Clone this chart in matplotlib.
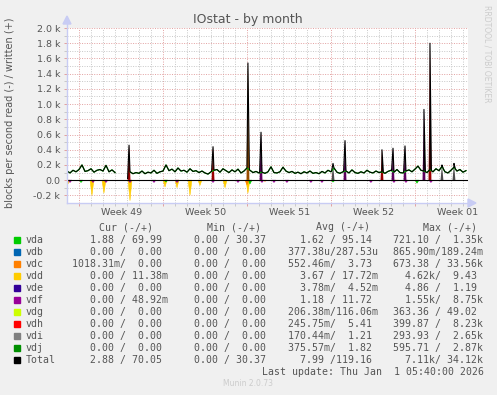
import numpy as np
import matplotlib.pyplot as plt
from matplotlib.patches import Rectangle
from matplotlib.colors import to_rgb

W, H = 497, 395

# devices and munin colours
devices = ["vda", "vdb", "vdc", "vdd", "vde", "vdf", "vdg", "vdh", "vdi", "vdj", "Total"]
colors = ["#00CC00", "#0066B3", "#FF8000", "#FFCC00", "#330099", "#990099",
          "#CCFF00", "#FF0000", "#808080", "#008F00", "#000000"]
dev_color = dict(zip(devices, colors))

# baseline write rate (blocks/s), one value every 6 hours over the month
days = np.arange(134) * 0.25
total_write = [120, 95, 130, 110, 140, 200, 115, 125, 150, 105, 130, 140, 120, 195, 110, 135,
               100, np.nan, np.nan, np.nan, np.nan, 110, 85, 100, 90, 120, 85, 105, 95, 130,
               90, 110, 120, 200, 125, 145, 110, 160, 120, 130, 105, 150, 115, 125, 100, 120,
               95, 80, 110, 130, 140, 105, 150, 125, 100, 135, 110, 145, 95, 120, 160, 130,
               100, 115, 95, 105, 90, 110, 175, 100, 95, 110, 170, 120, 100, 115, 90, 105,
               85, 110, 95, 120, 90, 100, 85, 115, 95, 130, 110, 160, 105, 90, 110, 120,
               95, 135, 100, 90, 110, 95, 130, 105, 95, 120, 100, 110, 90, 115, 130, 105,
               140, 100, 95, 120, 135, 110, 145, 185, 130, 120, 100, 140, 110, 150, 125, 180,
               110, 95, 130, 170, 120, 140, 105, 125]

# write spikes (day, blocks/s, device)
spike_day = [5.17, 12.17, 15.08, 16.17, 22.17, 23.17, 26.25, 27.17, 28.17, 29.75, 30.25, 31.25, 32.25]
spike_val = [460, 440, 1540, 630, 220, 520, 400, 420, 450, 930, 1800, 200, 220]
spike_dev = ["vdh", "vdh", "vdc", "vdf", "vdi", "vdf", "vdh", "vdf", "vdf", "vdf", "vdh", "vdi", "vdi"]

# read spikes, drawn below zero
read_day = [0.08, 2.08, 3.08, 5.25, 8.17, 9.17, 10.25, 11.08, 13.17, 15.08,
            0.25, 2.17, 3.25, 5.25, 7.25, 9.17, 12.17, 14.25, 16.25, 17.25, 18.33, 20.33,
            21.25, 25.33, 27.25, 28.25, 30.33,
            1.17, 8.25, 15.25, 22.17, 29.17,
            15.0, 16.5, 27.5]
read_val = [50, 200, 170, 270, 90, 100, 200, 70, 100, 170,
            30, 30, 30, 30, 30, 30, 30, 30, 30, 30, 30, 30,
            30, 30, 30, 30, 30,
            30, 25, 50, 25, 40,
            60, 15, 10]
read_dev = ["vdd"] * 10 + ["vdf"] * 17 + ["vda"] * 5 + ["vdc"] * 3

week_lines = [1.03, 8.03, 15.03, 22.03, 29.03]
week_labels = ["Week 49", "Week 50", "Week 51", "Week 52", "Week 01"]
ytick_vals = [-200, 0, 200, 400, 600, 800, 1000, 1200, 1400, 1600, 1800, 2000]
ytick_labels = ["-0.2 k", "0.0", "0.2 k", "0.4 k", "0.6 k", "0.8 k", "1.0 k",
                "1.2 k", "1.4 k", "1.6 k", "1.8 k", "2.0 k"]

# legend table values (read / write)
cur = [("1.88", "69.99"), ("0.00", "0.00"), ("1018.31m", "0.00"), ("0.00", "11.38m"),
       ("0.00", "0.00"), ("0.00", "48.92m"), ("0.00", "0.00"), ("0.00", "0.00"),
       ("0.00", "0.00"), ("0.00", "0.00"), ("2.88", "70.05")]
mins = [("0.00", "30.37"), ("0.00", "0.00"), ("0.00", "0.00"), ("0.00", "0.00"),
        ("0.00", "0.00"), ("0.00", "0.00"), ("0.00", "0.00"), ("0.00", "0.00"),
        ("0.00", "0.00"), ("0.00", "0.00"), ("0.00", "30.37")]
avg = [("1.62", "95.14"), ("377.38u", "287.53u"), ("552.46m", "3.73"), ("3.67", "17.72m"),
       ("3.78m", "4.52m"), ("1.18", "11.72"), ("206.38m", "116.06m"), ("245.75m", "5.41"),
       ("170.44m", "1.21"), ("375.57m", "1.82"), ("7.99", "119.16")]
maxs = [("721.10", "1.35k"), ("865.90m", "189.24m"), ("673.38", "33.56k"), ("4.62k", "9.43"),
        ("4.86", "1.19"), ("1.55k", "8.75k"), ("363.36", "49.02"), ("399.87", "8.23k"),
        ("293.93", "2.65k"), ("595.71", "2.87k"), ("7.11k", "34.12k")]


def cell(pair):
    out = ""
    for s, width in zip(pair, (7, 6)):
        if s[-1].isalpha():
            num, unit = s[:-1], s[-1]
        else:
            num, unit = s, " "
        out += num.rjust(width) + unit
        if width == 7:
            out += "/"
    return out


def shade(c, k=0.5):
    r, g, b = to_rgb(c)
    return (r * k, g * k, b * k)


txt = "#555555"
fig = plt.figure(figsize=(W / 100, H / 100), dpi=100, facecolor="#F0F0F0")
ax = fig.add_axes([67 / W, 1 - 203 / H, 401 / W, 175 / H])
ax.set_facecolor("white")
ax.set_xlim(0, 33.42)
ax.set_ylim(-300, 2000)
for s in ax.spines.values():
    s.set_visible(False)

# grid
ax.set_xticks(week_lines)
ax.set_xticks([d + 0.03 for d in range(2, 34) if (d - 1) % 7 != 0], minor=True)
ax.set_yticks(ytick_vals)
ax.set_yticklabels(ytick_labels)
ax.set_yticks([v for v in range(-100, 2000, 200)], minor=True)
ax.set_xticklabels([])
dots = (0, (1, 1.5))
ax.grid(which="major", color="#E2A0A0", ls=dots, lw=0.7)
ax.grid(which="minor", color="#C8C8C8", ls=dots, lw=0.7)
ax.set_axisbelow(True)
ax.tick_params(which="both", length=2, width=0.7, pad=3, labelsize=6.8, labelcolor=txt)
ax.tick_params(which="major", color="#E2A0A0")
ax.tick_params(which="minor", color="#C8C8C8")

# spikes (write)
w = 0.12
for d, h, dev in zip(spike_day, spike_val, spike_dev):
    ax.fill([d - w, d, d + w], [0, h, 0], color=shade(dev_color[dev], 0.6), lw=0, zorder=2)
# spikes (read)
for d, h, dev in zip(read_day, read_val, read_dev):
    ax.fill([d - 0.16, d, d + 0.16], [0, -h, 0], color=dev_color[dev], lw=0.4,
            ec=dev_color[dev], zorder=2)

base = np.array(total_write, dtype=float)
ax.plot(days, base, color=dev_color["vda"], lw=0.9, zorder=2.5)

sd = np.array(spike_day)
filled = np.nan_to_num(base)
xs = np.concatenate([days, sd - w, sd, sd + w])
ys = np.concatenate([base, np.interp(sd - w, days, filled), spike_val, np.interp(sd + w, days, filled)])
order = np.argsort(xs, kind="stable")
ax.plot(xs[order], ys[order], color="black", lw=0.8, zorder=3)
ax.axhline(0, color="black", lw=0.8, zorder=3)

# axes arrows
axis_c = "#C8CCF4"
fig.add_artist(plt.Line2D([67 / W, 67 / W], [1 - 203 / H, 1 - 22 / H], color=axis_c, lw=1))
fig.add_artist(plt.Line2D([67 / W, 470 / W], [1 - 203 / H, 1 - 203 / H], color=axis_c, lw=1))
fig.add_artist(plt.Polygon([[63 / W, 1 - 24 / H], [71 / W, 1 - 24 / H], [67 / W, 1 - 16 / H]],
                           closed=True, color=axis_c, transform=fig.transFigure))
fig.add_artist(plt.Polygon([[468 / W, 1 - 199 / H], [468 / W, 1 - 207 / H], [476 / W, 1 - 203 / H]],
                           closed=True, color=axis_c, transform=fig.transFigure))

# week labels
for x0, lab in zip(week_lines, week_labels):
    ax.annotate(lab, xy=(x0 + 3.5, 0), xycoords=("data", "axes fraction"),
                xytext=(0, -7), textcoords="offset points", ha="center", va="center",
                fontsize=6.8, color=txt, annotation_clip=False)

fig.text(248 / W, 1 - 19.5 / H, "IOstat - by month", ha="center", va="center", fontsize=9, color=txt)
fig.text(10 / W, 1 - 113 / H, "blocks per second read (-) / written (+)", rotation=90,
         ha="center", va="center", fontsize=7, color=txt)
fig.text(487.5 / W, 1 - 5 / H, "RRDTOOL / TOBI OETIKER", rotation=270, ha="center", va="top",
         fontsize=5.5, color="#CCCCCC")

# legend table
mono = dict(family="DejaVu Sans Mono", fontsize=7.1, color=txt, va="center")
for x, head in zip([98.7, 206.7, 316, 422.7], ["Cur (-/+)", "Min (-/+)", "Avg (-/+)", "Max (-/+)"]):
    fig.text(x / W, 1 - 227.3 / H, head, **mono)
for i, dev in enumerate(devices):
    y = 240 + 12 * i
    fig.add_artist(Rectangle((14 / W, 1 - (y + 3) / H), 6 / W, 6 / H, color=dev_color[dev],
                             transform=fig.transFigure))
    fig.text(26 / W, 1 - y / H, dev, **mono)
    for x, col in zip([71.7, 176.5, 281.8, 386.8], [cur, mins, avg, maxs]):
        fig.text(x / W, 1 - y / H, cell(col[i]), **mono)
fig.text(261.7 / W, 1 - 372.3 / H, "Last update: Thu Jan  1 05:40:00 2026", **mono)
fig.text(248 / W, 1 - 383.5 / H, "Munin 2.0.73", ha="center", va="center", fontsize=5.5, color="#CCCCCC")

fig.savefig("out.png", dpi=100, facecolor=fig.get_facecolor())
